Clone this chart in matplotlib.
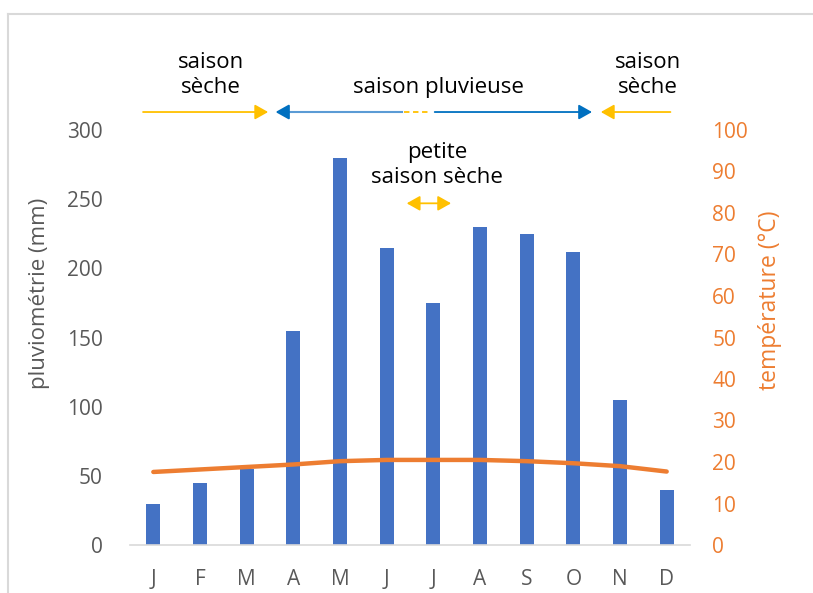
import numpy as np
import matplotlib.pyplot as plt
from matplotlib.lines import Line2D

plt.rcParams['font.family'] = ['Open Sans', 'DejaVu Sans']

months = ['J', 'F', 'M', 'A', 'M', 'J', 'J', 'A', 'S', 'O', 'N', 'D']
rain = [30, 45, 55, 155, 280, 215, 175, 230, 225, 212, 105, 40]
temp = [17.6, 18.2, 18.8, 19.4, 20.2, 20.5, 20.5, 20.5, 20.2, 19.7, 19.0, 17.7]

blue = '#4472C4'
orange = '#ED7D31'
gray = '#595959'
yellow = '#FFC000'
dblue = '#0070C0'
lblue = '#5B9BD5'

fig = plt.figure(figsize=(8.13, 5.93), dpi=100)
ax = fig.add_axes([130 / 813, 48 / 593, 560 / 813, 415 / 593])
x = np.arange(len(months))
ax.bar(x, rain, width=0.3, color=blue, zorder=2)
ax.set_xlim(-0.5, 11.5)
ax.set_ylim(0, 300)
ax.set_yticks(range(0, 301, 50))
ax.set_xticks(x)
ax.set_xticklabels(months)
for s in ['top', 'right', 'left']:
    ax.spines[s].set_visible(False)
ax.spines['bottom'].set_color('#D9D9D9')
ax.spines['bottom'].set_linewidth(1.2)
ax.tick_params(length=0, labelsize=15, colors=gray)
ax.tick_params(axis='x', pad=17)
ax.tick_params(axis='y', pad=19.5)
ax.set_ylabel('pluviométrie (mm)', fontsize=16, color=gray)
ax.yaxis.set_label_coords(-0.143, 0.607)

ax2 = ax.twinx()
ax2.plot(x, temp, color=orange, lw=3.2, solid_capstyle='round', zorder=3)
ax2.set_ylim(0, 100)
ax2.set_yticks(range(0, 101, 10))
for s in ['top', 'right', 'left', 'bottom']:
    ax2.spines[s].set_visible(False)
ax2.tick_params(length=0, labelsize=15, colors=orange, pad=16)
ax2.set_ylabel('température (°C)', fontsize=16.5, color=orange)
ax2.yaxis.set_label_coords(1.121, 0.59)

# season arrows (x in month index, y in rain units)
ya = 313
head = '-|>,head_length=0.8,head_width=0.45'
kw = dict(xycoords='data', textcoords='data', annotation_clip=False)
ax.annotate('', xy=(2.52, ya), xytext=(-0.28, ya),
            arrowprops=dict(arrowstyle=head, color=yellow, lw=1.3, mutation_scale=10), **kw)
ax.plot([2.8, 5.32], [ya, ya], color=lblue, lw=1.5, clip_on=False)
ax.annotate('', xy=(2.56, ya), xytext=(2.9, ya),
            arrowprops=dict(arrowstyle=head, color=dblue, lw=1.5, mutation_scale=10), **kw)
ax.annotate('', xy=(9.46, ya), xytext=(5.97, ya),
            arrowprops=dict(arrowstyle=head, color=dblue, lw=1.3, mutation_scale=10), **kw)
ax.annotate('', xy=(9.53, ya), xytext=(11.14, ya),
            arrowprops=dict(arrowstyle=head, color=yellow, lw=1.3, mutation_scale=10), **kw)
ax.plot([5.38, 5.95], [ya, ya], color=yellow, lw=1.3, ls=(0, (3, 2)), clip_on=False)
ax.annotate('', xy=(6.44, 247), xytext=(5.37, 247),
            arrowprops=dict(arrowstyle='<|-|>,head_length=0.8,head_width=0.45',
                            color=yellow, lw=1.3, mutation_scale=10), **kw)

tkw = dict(ha='center', va='center', fontsize=16, color='black', linespacing=1.25)
ax.text(1.23, 340, 'saison\nsèche', **tkw)
ax.text(6.1, 330.5, 'saison pluvieuse', **tkw)
ax.text(10.6, 340, 'saison\nsèche', **tkw)
ax.text(6.08, 275, 'petite\nsaison sèche', **tkw)

# chart area border
fig.add_artist(Line2D([8 / 813, 8 / 813], [0, 1 - 14 / 593], transform=fig.transFigure,
                      color='#D9D9D9', lw=1.5))
fig.add_artist(Line2D([8 / 813, 1], [1 - 14 / 593, 1 - 14 / 593], transform=fig.transFigure,
                      color='#D9D9D9', lw=1.5))

fig.savefig('out.png', dpi=100)
